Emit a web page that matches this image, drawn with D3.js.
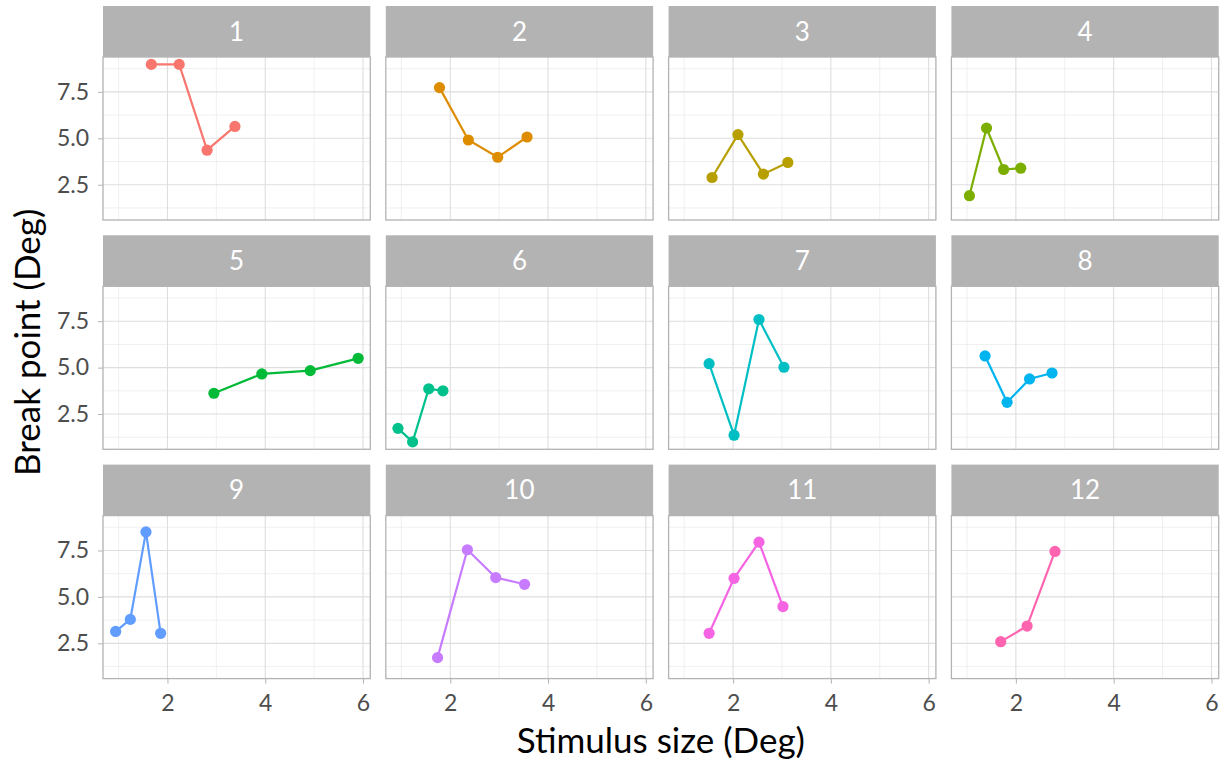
<!DOCTYPE html>
<html>
<head>
<meta charset="utf-8">
<script src="https://cdn.jsdelivr.net/npm/d3@7"></script>
<style>
  body { margin: 0; background: #fff; }
  text { font-family: Lato, "Open Sans", sans-serif; }
</style>
</head>
<body>
<svg width="1226" height="765"></svg>
<script>
var subjects = ["1", "2", "3", "4", "5", "6", "7", "8", "9", "10", "11", "12"];

var stimulusSize = [
  [1.67, 2.24, 2.81, 3.38],
  [1.78, 2.37, 2.97, 3.57],
  [1.57, 2.10, 2.62, 3.12],
  [1.05, 1.40, 1.75, 2.10],
  [2.95, 3.93, 4.92, 5.90],
  [0.93, 1.23, 1.56, 1.85],
  [1.51, 2.02, 2.53, 3.04],
  [1.37, 1.82, 2.28, 2.74],
  [0.94, 1.24, 1.56, 1.86],
  [1.74, 2.35, 2.93, 3.52],
  [1.51, 2.02, 2.53, 3.02],
  [1.69, 2.23, 2.80]
];

var breakPoint = [
  [8.98, 8.98, 4.36, 5.64],
  [7.73, 4.91, 3.98, 5.07],
  [2.89, 5.20, 3.07, 3.70],
  [1.91, 5.55, 3.32, 3.39],
  [3.62, 4.66, 4.84, 5.50],
  [1.73, 1.00, 3.86, 3.75],
  [5.21, 1.36, 7.59, 5.02],
  [5.63, 3.13, 4.39, 4.71],
  [3.14, 3.79, 8.50, 3.04],
  [1.73, 7.54, 6.04, 5.68],
  [3.04, 6.00, 7.95, 4.48],
  [2.59, 3.43, 7.45]
];

var xTicks = [2, 4, 6];
var xMinor = [1, 3, 5];
var yTicks = [2.5, 5.0, 7.5];
var yMinor = [1.25, 3.75, 6.25, 8.75];

var colors = ["#F8766D", "#DE8C00", "#B79F00", "#7CAE00", "#00BA38", "#00C08B",
              "#00BFC4", "#00B4F0", "#619CFF", "#C77CFF", "#F564E3", "#FF64B0"];

var svg = d3.select("svg");

var marginLeft = 103, marginTop = 6,
    panelW = 267.3, colGap = 15.5,
    stripH = 51, panelH = 163, rowGap = 15.3,
    ncol = 4;

// ggplot style 5% expansion on shared scales
var allX = d3.merge(stimulusSize), allY = d3.merge(breakPoint);
var xe = d3.extent(allX), ye = d3.extent(allY);
var xPad = (xe[1] - xe[0]) * 0.05, yPad = (ye[1] - ye[0]) * 0.05;

var x = d3.scaleLinear().domain([xe[0] - xPad, xe[1] + xPad]).range([0, panelW]);
var y = d3.scaleLinear().domain([ye[0] - yPad, ye[1] + yPad]).range([panelH, 0]);

var line = d3.line()
  .x(function(d) { return x(d[0]); })
  .y(function(d) { return y(d[1]); });

subjects.forEach(function(s, i) {
  var col = i % ncol, row = Math.floor(i / ncol);
  var px = marginLeft + col * (panelW + colGap);
  var py = marginTop + row * (stripH + panelH + rowGap);

  var g = svg.append("g").attr("transform", "translate(" + px + "," + py + ")");

  // strip
  g.append("rect")
    .attr("width", panelW).attr("height", stripH)
    .attr("fill", "#b3b3b3");
  g.append("text")
    .attr("x", panelW / 2).attr("y", stripH / 2)
    .attr("dy", "0.36em")
    .attr("text-anchor", "middle")
    .attr("fill", "#ffffff")
    .style("font-size", "26px")
    .text(s);

  var p = g.append("g").attr("transform", "translate(0," + stripH + ")");

  // grid
  p.selectAll(".ym").data(yMinor).enter().append("line")
    .attr("x1", 0).attr("x2", panelW)
    .attr("y1", function(d) { return y(d); }).attr("y2", function(d) { return y(d); })
    .attr("stroke", "#e9e9e9").attr("stroke-width", 0.7);
  p.selectAll(".xm").data(xMinor).enter().append("line")
    .attr("y1", 0).attr("y2", panelH)
    .attr("x1", function(d) { return x(d); }).attr("x2", function(d) { return x(d); })
    .attr("stroke", "#e9e9e9").attr("stroke-width", 0.7);
  p.selectAll(".yg").data(yTicks).enter().append("line")
    .attr("x1", 0).attr("x2", panelW)
    .attr("y1", function(d) { return y(d); }).attr("y2", function(d) { return y(d); })
    .attr("stroke", "#dedede").attr("stroke-width", 1.1);
  p.selectAll(".xg").data(xTicks).enter().append("line")
    .attr("y1", 0).attr("y2", panelH)
    .attr("x1", function(d) { return x(d); }).attr("x2", function(d) { return x(d); })
    .attr("stroke", "#dedede").attr("stroke-width", 1.1);

  // data
  var pts = d3.zip(stimulusSize[i], breakPoint[i]);
  p.append("path")
    .datum(pts)
    .attr("d", line)
    .attr("fill", "none")
    .attr("stroke", colors[i])
    .attr("stroke-width", 2.2);
  p.selectAll("circle").data(pts).enter().append("circle")
    .attr("cx", function(d) { return x(d[0]); })
    .attr("cy", function(d) { return y(d[1]); })
    .attr("r", 5.6)
    .attr("fill", colors[i]);

  // border
  p.append("rect")
    .attr("width", panelW).attr("height", panelH)
    .attr("fill", "none")
    .attr("stroke", "#b3b3b3").attr("stroke-width", 1.3);

  // axes
  if (col === 0) {
    var ya = p.append("g").call(d3.axisLeft(y).tickValues(yTicks).tickSize(5).tickPadding(9)
      .tickFormat(d3.format(".1f")));
    ya.select(".domain").remove();
    ya.selectAll("line").attr("stroke", "#b3b3b3");
    ya.selectAll("text").attr("fill", "#4d4d4d").style("font-size", "23px");
  }
  if (row === 2) {
    var xa = p.append("g").attr("transform", "translate(0," + panelH + ")")
      .call(d3.axisBottom(x).tickValues(xTicks).tickSize(5).tickPadding(11)
        .tickFormat(d3.format("d")));
    xa.select(".domain").remove();
    xa.selectAll("line").attr("stroke", "#b3b3b3");
    xa.selectAll("text").attr("fill", "#4d4d4d").style("font-size", "23px");
  }
});

// axis titles
var plotRight = marginLeft + ncol * panelW + (ncol - 1) * colGap;
svg.append("text")
  .attr("x", (marginLeft + plotRight) / 2)
  .attr("y", 753)
  .attr("text-anchor", "middle")
  .attr("fill", "#000")
  .style("font-size", "35px")
  .text("Stimulus size (Deg)");

var plotBottom = marginTop + 3 * (stripH + panelH) + 2 * rowGap;
svg.append("text")
  .attr("transform", "translate(40," + ((marginTop + plotBottom) / 2) + ") rotate(-90)")
  .attr("text-anchor", "middle")
  .attr("fill", "#000")
  .style("font-size", "35px")
  .text("Break point (Deg)");
</script>
</body>
</html>
